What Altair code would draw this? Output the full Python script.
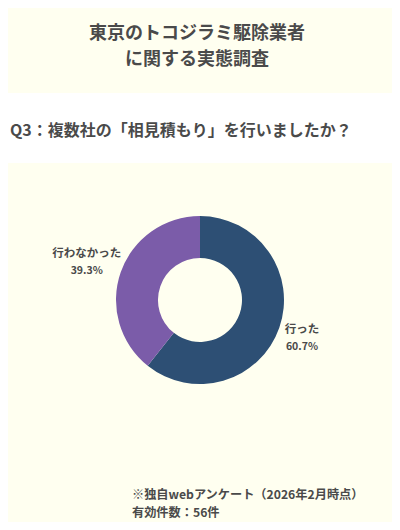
import altair as alt
import pandas as pd

categories = ["行った", "行わなかった"]
values = [60.7, 39.3]
colors = ["#2D4F74", "#7B5CA9"]
title_lines = ["東京のトコジラミ駆除業者", "に関する実態調査"]
question = "Q3：複数社の「相見積もり」を行いましたか？"
notes = ["※独自webアンケート（2026年2月時点）", "有効件数：56件"]

FONT = "Noto Sans CJK JP"
TXT = "#4a4a4a"
BG = "#FFFFF0"

df = pd.DataFrame({"category": categories, "value": values, "order": list(range(len(categories)))})
df["pct"] = df["value"].map(lambda v: f"{v:.1f}%")

W, H = 384, 514
CX, CY = 192, 292
LABEL_R = {"行った": 108, "行わなかった": 120}

base = alt.Chart(df)
color = alt.Color("category:N", scale=alt.Scale(domain=categories, range=colors), legend=None)

arc = base.mark_arc(outerRadius=84, innerRadius=42).encode(
    theta=alt.Theta("value:Q", stack=True), color=color, order=alt.Order("order:Q"),
    x=alt.value(CX), y=alt.value(CY)
)

lab_base = base.transform_window(
    cum="sum(value)", sort=[alt.SortField("order")]
).transform_calculate(
    mid="datum.cum - datum.value / 2"
)
mid_theta = alt.Theta("mid:Q", scale=alt.Scale(domain=[0, 100]))

labels = []
for cat in categories:
    b = lab_base.transform_filter(alt.datum.category == cat)
    labels.append(b.mark_text(radius=LABEL_R[cat], dy=-6, font=FONT, fontSize=11.5,
                              fontWeight="bold", color=TXT).encode(
        theta=mid_theta, text="category:N", x=alt.value(CX), y=alt.value(CY)))
    labels.append(b.mark_text(radius=LABEL_R[cat], dy=11, font=FONT, fontSize=10.5,
                              fontWeight="bold", color=TXT).encode(
        theta=mid_theta, text="pct:N", x=alt.value(CX), y=alt.value(CY)))

band = alt.Chart(alt.Data(values=[{"a": 1}])).mark_rect(color="#FFFFFF").encode(
    x=alt.value(0), x2=alt.value(389), y=alt.value(85), y2=alt.value(155)
)

def line(text, x, y, size, align="center"):
    return alt.Chart(alt.Data(values=[{"t": text}])).mark_text(
        font=FONT, fontSize=size, fontWeight="bold", color=TXT, align=align
    ).encode(text="t:N", x=alt.value(x), y=alt.value(y))

t1 = line(title_lines[0], 189, 26, 18)
t2 = line(title_lines[1], 189, 52, 18)
q = line(question, 2, 123, 16, "left")
n1 = line(notes[0], 124, 487, 12.2, "left")
n2 = line(notes[1], 124, 505, 12.2, "left")

chart = alt.layer(band, t1, t2, q, arc, *labels, n1, n2).resolve_scale(
    theta="independent"
).properties(
    width=W, height=H, padding=0,
    autosize=alt.AutoSizeParams(type="fit", contains="padding"),
    background=BG,
).configure_view(stroke=None)

chart.save("out.html", embed_options={"renderer": "svg", "actions": False})
